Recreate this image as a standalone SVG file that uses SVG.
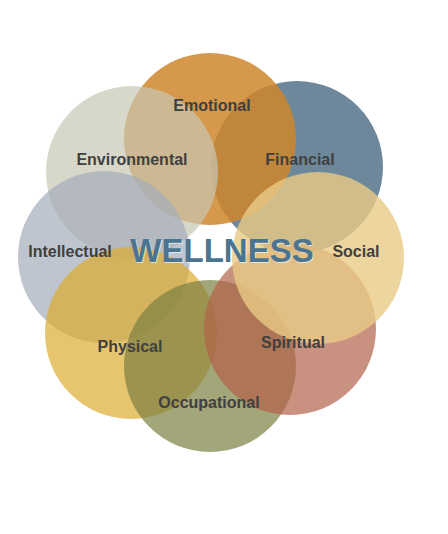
<svg xmlns="http://www.w3.org/2000/svg" width="448" height="534" viewBox="0 0 448 534">
<style>
.c{opacity:0.7}
.lbl{font-family:"Liberation Sans",Arial,sans-serif;font-weight:bold;font-size:16px;fill:#404040;text-anchor:middle}
.title{font-family:"Liberation Sans",Arial,sans-serif;font-weight:bold;font-size:33px;fill:#4A7490;text-anchor:middle}
</style>
<rect width="448" height="534" fill="#ffffff"/>
<g id="financial"><circle class="c" cx="297" cy="167" r="86" fill="#305570"/></g>
<g id="emotional"><circle cx="210" cy="139" r="86" fill="#CF862C" opacity="0.85"/></g>
<g id="environmental"><circle class="c" cx="132" cy="172" r="86" fill="#C7C7B3"/></g>
<g id="intellectual"><circle class="c" cx="104" cy="257" r="86" fill="#A4ACB9"/></g>
<g id="physical"><circle class="c" cx="131" cy="333" r="86" fill="#DDAB31"/></g>
<g id="occupational"><circle class="c" cx="210" cy="366" r="86" fill="#7C8040"/></g>
<g id="spiritual"><circle class="c" cx="290" cy="329" r="86" fill="#B26348"/></g>
<g id="social"><circle cx="318" cy="258" r="86" fill="#E8CA86" opacity="0.8"/></g>
<g id="labels">
<text class="lbl" x="212" y="111">Emotional</text>
<text class="lbl" x="132" y="165">Environmental</text>
<text class="lbl" x="300" y="165">Financial</text>
<text class="lbl" x="70" y="257">Intellectual</text>
<text class="lbl" x="356" y="257">Social</text>
<text class="lbl" x="130" y="352">Physical</text>
<text class="lbl" x="293" y="348">Spiritual</text>
<text class="lbl" x="209" y="408">Occupational</text>
</g>
<g id="wellness">
<text class="title" x="223" y="263" style="fill:#ffffff;opacity:0.6">WELLNESS</text>
<text class="title" x="222" y="262">WELLNESS</text>
</g>
</svg>
